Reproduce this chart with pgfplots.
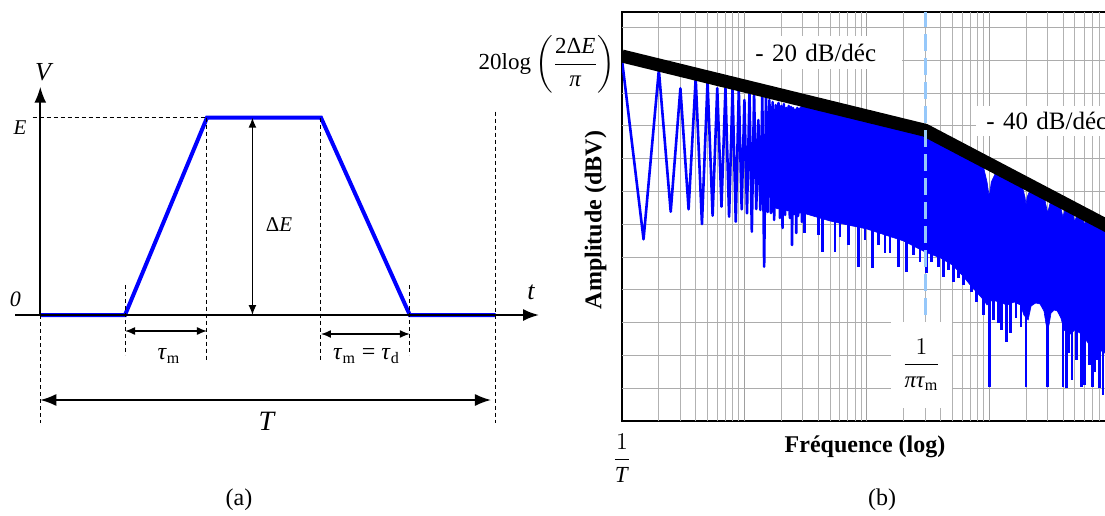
\documentclass[border=0pt]{standalone}
\usepackage{fontspec}
\setmainfont{Liberation Serif}
\usepackage{amsmath}
\usepackage{pgfplots}
\pgfplotsset{compat=1.18}
\usetikzlibrary{arrows.meta}
\definecolor{dashblue}{RGB}{150,200,250}
\tikzset{
  bigtip/.tip={Latex[length=8pt,width=6pt]},
  smalltip/.tip={Latex[length=5pt,width=4pt]},
  fine dash/.style={line width=0.5pt, dash pattern=on 2pt off 1.5pt},
}

\begin{document}
\begin{tikzpicture}
\useasboundingbox (0pt,0pt) rectangle (552.5pt,257.5pt);
\clip (0pt,0pt) rectangle (552.5pt,257.5pt);

% ---------- (a) trapezoidal pulse ----------
\begin{axis}[at={(0pt,32.5pt)}, anchor=south west, scale only axis,
  width=276pt, height=200pt, hide axis, clip=false,
  xmin=-0.08853, xmax=1.1241, ymin=-0.6842, ymax=1.3431]
  \addplot[blue, line width=2pt] coordinates {
    (0,0) (0.1861,0) (0.3662,1) (0.6166,1) (0.8117,0) (1,0)};
  % axes
  \draw[line width=1pt, -bigtip] (axis cs:0,0) -- (axis cs:0,1.1571);
  \draw[line width=1pt, -bigtip] (axis cs:-0.0545,0) -- (axis cs:1.0956,0);
  % guides
  \draw[fine dash] (axis cs:0,0) -- (axis cs:0,-0.5489);
  \draw[fine dash] (axis cs:-0.0167,1) -- (axis cs:0.3662,1);
  \draw[fine dash] (axis cs:0.1861,0.1521) -- (axis cs:0.1861,-0.2027);
  \draw[fine dash] (axis cs:0.3662,1) -- (axis cs:0.3662,-0.2281);
  \draw[fine dash] (axis cs:0.6166,1) -- (axis cs:0.6166,-0.2281);
  \draw[fine dash] (axis cs:0.8117,0.1521) -- (axis cs:0.8117,-0.2027);
  \draw[fine dash] (axis cs:1,1.0304) -- (axis cs:1,-0.5489);
  % dimensions
  \draw[line width=0.7pt, smalltip-smalltip] (axis cs:0.4660,1) -- (axis cs:0.4660,0);
  \draw[line width=0.7pt, smalltip-smalltip] (axis cs:0.1861,-0.0811) -- (axis cs:0.3662,-0.0811);
  \draw[line width=0.7pt, smalltip-smalltip] (axis cs:0.6166,-0.0963) -- (axis cs:0.8117,-0.0963);
  \draw[line width=0.8pt, bigtip-bigtip] (axis cs:0,-0.4308) -- (axis cs:0.99,-0.4308);
  % labels
  \node[font=\fontsize{13}{15}\selectfont\itshape] at (axis cs:0.0059,1.2331) {V};
  \node[font=\fontsize{10.5}{12}\selectfont\itshape] at (axis cs:-0.0446,0.9478) {E};
  \node[font=\fontsize{11}{13}\selectfont\itshape] at (axis cs:-0.0545,0.0811) {0};
  \node[font=\fontsize{13}{15}\selectfont\itshape] at (axis cs:1.078,0.1140) {t};
  \node[font=\fontsize{10.5}{12}\selectfont] at (axis cs:0.5244,0.4562) {Δ\textit{E}};
  \node[font=\fontsize{12}{14}\selectfont] at (axis cs:0.2827,-0.2078) {\textit{τ}\textsubscript{m}};
  \node[font=\fontsize{12}{14}\selectfont] at (axis cs:0.7166,-0.2078)
    {\textit{τ}\textsubscript{m} = \textit{τ}\textsubscript{d}};
  \node[font=\fontsize{14}{16}\selectfont\itshape] at (axis cs:0.4969,-0.5373) {T};
\end{axis}

% ---------- (b) spectrum ----------
\begin{axis}[at={(311pt,47pt)}, anchor=south west, scale only axis,
  width=243pt, height=204.35pt,
  xmode=log, xmin=1, xmax=9346, ymin=0, ymax=12.46,
  xtick={1,10,100,1000},
  minor xtick={2,3,4,5,6,7,8,9,20,30,40,50,60,70,80,90,200,300,400,500,600,700,800,900,2000,3000,4000,5000,6000,7000,8000,9000},
  ytick={0,1,2,3,4,5,6,7,8,9,10,11,12},
  xticklabels={}, yticklabels={},
  tick align=inside, major tick length=2pt, minor tick length=1.5pt,
  tick style={black, line width=0.4pt},
  axis line style={black, line width=0.9pt},
  unbounded coords=jump,
  xlabel={Fréquence (log)}, ylabel={Amplitude (dBV)},
  xlabel style={at={(axis description cs:0.5,-0.0629)}, anchor=center,
    font=\fontsize{12}{14}\selectfont\bfseries},
  ylabel style={at={(axis description cs:-0.0545,0.4918)}, anchor=center,
    font=\fontsize{12}{14}\selectfont\bfseries},
]
  % grid, drawn first so that the spectrum covers it
  \addplot[ycomb, gray!60, line width=0.35pt, forget plot] coordinates {
    (2,12.46) (3,12.46) (4,12.46) (5,12.46) (6,12.46) (7,12.46) (8,12.46) (9,12.46)
    (20,12.46) (30,12.46) (40,12.46) (50,12.46) (60,12.46) (70,12.46) (80,12.46) (90,12.46)
    (200,12.46) (300,12.46) (400,12.46) (500,12.46) (600,12.46) (700,12.46) (800,12.46) (900,12.46)
    (2000,12.46) (3000,12.46) (4000,12.46) (5000,12.46) (6000,12.46) (7000,12.46) (8000,12.46) (9000,12.46)};
  \addplot[ycomb, gray!75, line width=0.5pt, forget plot] coordinates {
    (10,12.46) (100,12.46) (1000,12.46)};
  \addplot[xcomb, gray!65, line width=0.4pt, forget plot] coordinates {
    (9346,1) (9346,2) (9346,3) (9346,4) (9346,5) (9346,6) (9346,7) (9346,8)
    (9346,9) (9346,10) (9346,11) (9346,12)};
  % low harmonics, sampled every half harmonic
  \addplot[blue, line width=1.3pt, line join=round] coordinates {
    (1,11.01) (1.5,5.540) (2,10.70) (2.5,6.381) (3,10.143) (3.5,6.454)
    (4,10.448) (4.5,6.006) (5,10.345) (5.5,6.259) (6,10.143) (6.5,6.534)
    (7,10.143) (7.5,6.229) (8,10.143) (8.5,6.076) (9,10.113) (9.5,6.454)
    (10,9.787) (10.5,6.332) (11,9.991) (11.5,5.771) (12,9.991) (12.5,6.463)
    (13,9.177) (13.5,6.433) (14,9.887) (14.5,4.704) (15,9.939) (15.5,6.372)
    (16,9.787) (16.5,6.341) (17,9.726) (17.5,6.128) (18,9.634) (18.5,6.494)
    (19,9.695) (19.5,6.189) (20,9.604) (20.5,5.884) (21,9.665) (21.5,6.280)
    (22,9.543) (22.5,6.433) (23,9.604) (23.5,6.189) (24,9.573) (24.5,5.366)
    (25,9.543) (25.5,6.311) (26,9.482) (26.5,5.732) (27,9.543) (27.5,6.250)
    (28,9.512) (28.5,6.372) (29,9.482) (29.5,6.067) (30,9.482)};
  % dense harmonics: filled band
  \addplot[draw=blue, fill=blue, line width=0.3pt] coordinates {
    (18,9.024) (25,9.329) (32,9.753) (300,8.863) (880,7.826) (900,7.729)
    (960,7.287) (1000,6.838) (1040,7.287) (1120,7.543) (1250,7.619)
    (1800,7.338) (1880,7.104) (1960,6.829) (2000,6.585) (2040,6.829)
    (2130,6.997) (2300,7.128) (2850,6.750) (3000,6.341) (3150,6.665)
    (3500,6.771) (3850,6.494) (4000,6.220) (4150,6.430) (4500,6.561)
    (4850,6.299) (5000,6.067) (5150,6.244) (5600,6.372) (5850,6.137)
    (6000,5.976) (6150,6.095) (9346,5.936)
    (9346,2.012) (8000,2.165) (7300,2.317) (6600,2.317) (6000,2.530)
    (5500,2.683) (5000,2.774) (4500,2.622) (4100,2.774) (3850,3.140)
    (3600,3.354) (3400,3.384) (3200,3.293) (3080,2.927) (2920,2.927)
    (2800,3.354) (2600,3.567) (2400,3.598) (2200,3.506) (2080,3.079)
    (1920,3.232) (1800,3.537) (1600,3.628) (1400,3.537) (1200,3.628)
    (1060,3.689) (960,3.537) (900,3.689) (800,3.902) (700,4.146)
    (600,4.451) (500,4.756) (400,4.970) (300,5.152) (200,5.488)
    (150,5.640) (100,5.854) (70,5.976) (50,6.098) (30,6.341) (18,6.494)} -- cycle;
  % dense harmonics: deep minima
  \addplot[blue, line width=1.3pt] coordinates {
    (31,6.372) (31,5.732) (nan,nan)
    (40.2,6.372) (40.2,5.671) (nan,nan) (43.6,6.372) (43.6,5.162) (nan,nan)
    (55,6.372) (55,5.162) (nan,nan) (60.4,6.372) (60.4,5.619) (nan,nan)
    (70.6,6.189) (70.6,5.366) (nan,nan) (85.2,6.189) (85.2,4.704) (nan,nan)
    (96.7,6.189) (96.7,5.518) (nan,nan) (111.7,5.976) (111.7,4.655) (nan,nan)
    (124.2,5.976) (124.2,5.366) (nan,nan) (140.8,5.976) (140.8,5.113) (nan,nan)
    (154.7,5.976) (154.7,5.113) (nan,nan) (180.9,5.701) (180.9,4.704) (nan,nan)
    (211.8,5.701) (211.8,4.552) (nan,nan) (239.9,5.701) (239.9,5.061) (nan,nan)
    (272,5.366) (272,4.848) (nan,nan) (308.7,5.366) (308.7,4.503) (nan,nan)
    (339.1,5.366) (339.1,4.848) (nan,nan) (383.9,5.152) (383.9,4.704) (nan,nan)
    (421.7,5.152) (421.7,4.399) (nan,nan) (463.2,5.152) (463.2,4.604) (nan,nan)
    (508.9,5.152) (508.9,4.247) (nan,nan) (559.2,4.756) (559.2,4.360) (nan,nan)
    (614.3,4.756) (614.3,4.146) (nan,nan) (719.5,4.207) (719.5,3.942) (nan,nan)
    (790.6,4.207) (790.6,3.637) (nan,nan) (895,4.207) (895,3.232) (nan,nan)
    (1000,3.689) (1000,1.037) (nan,nan) (1080,3.841) (1080,3.079) (nan,nan)
    (1187,3.841) (1187,2.988) (nan,nan) (1265,3.841) (1265,2.774) (nan,nan)
    (1390,3.841) (1390,2.418) (nan,nan) (1499,3.841) (1499,2.674) (nan,nan)
    (1656,3.841) (1656,3.140) (nan,nan) (1819,3.841) (1819,2.875) (nan,nan)
    (2000,3.323) (2000,1.037) (nan,nan) (3000,3.140) (3000,1.037) (nan,nan)
    (4000,3.140) (4000,1.037) (nan,nan) (4300,2.835) (4300,1.006) (nan,nan)
    (4500,2.835) (4500,2.073) (nan,nan) (4748,2.835) (4748,1.250) (nan,nan)
    (5150,2.835) (5150,1.860) (nan,nan) (5700,2.835) (5700,1.037) (nan,nan)
    (6000,2.835) (6000,1.098) (nan,nan) (6600,2.835) (6600,1.707) (nan,nan)
    (7000,2.835) (7000,1.037) (nan,nan) (7300,2.835) (7300,1.494) (nan,nan)
    (7700,2.835) (7700,1.860) (nan,nan) (8000,2.835) (8000,1.006) (nan,nan)
    (8500,2.835) (8500,0.793)};
  % asymptotes
  \addplot[black, line width=6.5pt] coordinates {(1,11.128) (300,8.863) (9346,5.936)};
  % corner frequency
  \addplot[dashblue, line width=1.5pt, dash pattern=on 8.5pt off 3.5pt]
    coordinates {(300,2.5) (300,12.46)};
  % annotations
  \node[fill=white, anchor=west, inner xsep=5pt, inner ysep=4pt, text width=68.5pt,
    align=left, font=\fontsize{12.5}{14}\selectfont] at (axis cs:10.11,11.235) {- 20 dB/déc};
  \node[fill=white, anchor=west, inner xsep=5pt, inner ysep=3pt, text width=70pt,
    align=left, font=\fontsize{12.5}{14}\selectfont] at (axis cs:780.2,9.146) {- 40 dB/déc};
  \node[fill=white, inner sep=0pt, minimum width=30.5pt, minimum height=43pt,
    font=\fontsize{11.5}{13}\selectfont] at (axis cs:279.8,1.707)
    {$\dfrac{1}{\text{\textit{πτ}\textsubscript{m}}}$};
\end{axis}

\node[anchor=east, inner sep=0pt, font=\fontsize{11.5}{13}\selectfont] at (308pt,225.5pt)
  {$\text{20log}\left(\dfrac{\text{2Δ\textit{E}}}{\text{\textit{π}}}\right)$};
\node[font=\fontsize{11.5}{13}\selectfont] at (311pt,28.5pt) {$\dfrac{1}{\text{\textit{T}}}$};
\node[font=\fontsize{12}{14}\selectfont] at (119.5pt,7.5pt) {(a)};
\node[font=\fontsize{12}{14}\selectfont] at (441pt,7.5pt) {(b)};
\end{tikzpicture}
\end{document}
